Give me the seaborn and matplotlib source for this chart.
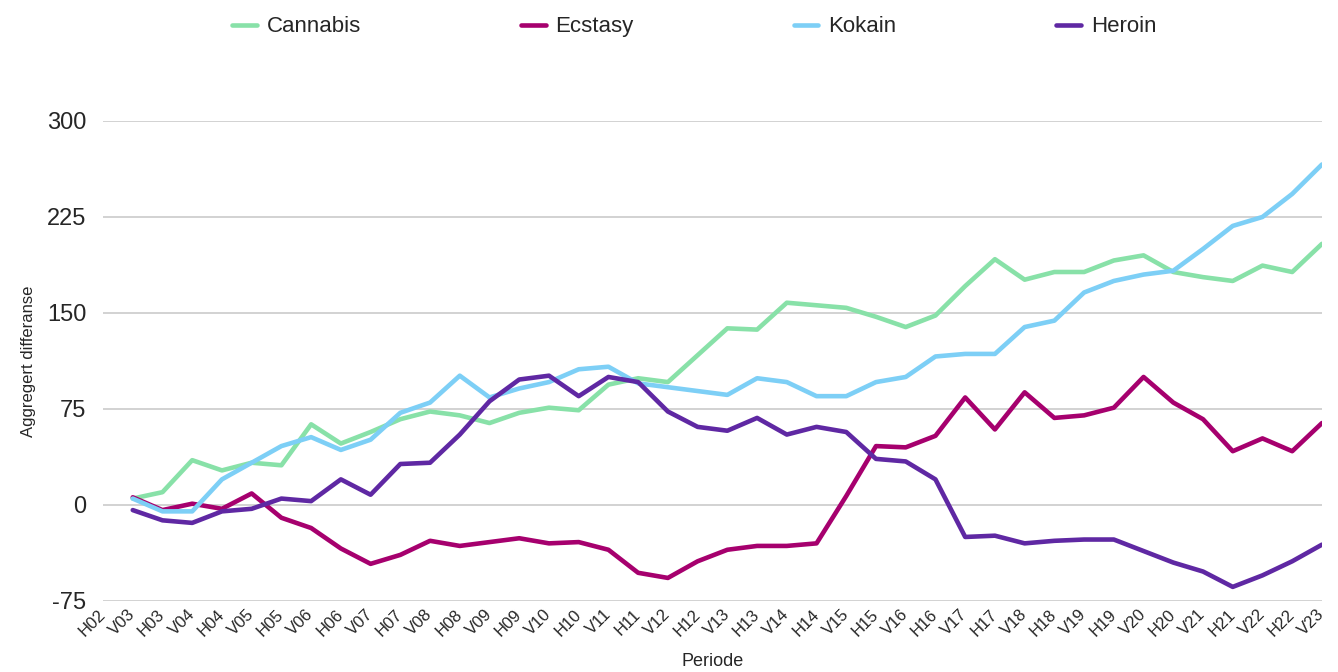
import numpy as np
import pandas as pd
import matplotlib
matplotlib.use("Agg")
import matplotlib.pyplot as plt
import seaborn as sns

# ---- Data ---- #
periods = ["H02", "V03", "H03", "V04", "H04", "V05", "H05", "V06", "H06", "V07",
           "H07", "V08", "H08", "V09", "H09", "V10", "H10", "V11", "H11", "V12",
           "H12", "V13", "H13", "V14", "H14", "V15", "H15", "V16", "H16", "V17",
           "H17", "V18", "H18", "V19", "H19", "V20", "H20", "V21", "H21", "V22",
           "H22", "V23"]

cannabis = [np.nan, 5, 10, 35, 27, 33, 31, 63, 48, 57, 67, 73, 70, 64, 72, 76, 74, 94,
            99, 96, 117, 138, 137, 158, 156, 154, 147, 139, 148, 171, 192, 176, 182,
            182, 191, 195, 182, 178, 175, 187, 182, 204]
ecstasy = [np.nan, 6, -4, 1, -3, 9, -10, -18, -34, -46, -39, -28, -32, -29, -26, -30,
           -29, -35, -53, -57, -44, -35, -32, -32, -30, 7, 46, 45, 54, 84, 59, 88, 68,
           70, 76, 100, 80, 67, 42, 52, 42, 64]
kokain = [np.nan, 5, -5, -5, 20, 33, 46, 53, 43, 51, 72, 80, 101, 84, 91, 96, 106, 108,
          95, 92, 89, 86, 99, 96, 85, 85, 96, 100, 116, 118, 118, 139, 144, 166, 175,
          180, 183, 200, 218, 225, 243, 266]
heroin = [np.nan, -4, -12, -14, -5, -3, 5, 3, 20, 8, 32, 33, 55, 81, 98, 101, 85, 100,
          96, 73, 61, 58, 68, 55, 61, 57, 36, 34, 20, -25, -24, -30, -28, -27, -27,
          -36, -45, -52, -64, -55, -44, -31]

names = ["Cannabis", "Ecstasy", "Kokain", "Heroin"]
colors = ["#88E1A8", "#A6006E", "#7DCFF6", "#5F28A3"]

wide = pd.DataFrame({"pos": np.arange(len(periods)),
                     "Cannabis": cannabis, "Ecstasy": ecstasy,
                     "Kokain": kokain, "Heroin": heroin})
df = wide.melt(id_vars="pos", var_name="Stoff", value_name="verdi").dropna()

# ---- Plot ---- #
sns.set_theme(style="white")
plt.rcParams["font.family"] = ["Liberation Sans", "DejaVu Sans"]
plt.rcParams["axes.unicode_minus"] = False

fig = plt.figure(figsize=(13.38, 6.72), dpi=100)
ax = fig.add_axes([0.077, 0.1057, 0.911, 0.7143])

sns.lineplot(data=df, x="pos", y="verdi", hue="Stoff", hue_order=names,
             palette=colors, linewidth=3.3, ax=ax)

ax.set_xlim(0, len(periods) - 1)
ax.set_ylim(-75, 300)
ax.set_yticks([-75, 0, 75, 150, 225, 300])
ax.set_xticks(np.arange(len(periods)))
ax.set_xticklabels(periods, rotation=45, ha="right", va="center",
                   rotation_mode="anchor", fontsize=12)
ax.tick_params(axis="y", labelsize=17, length=0, pad=12)
ax.tick_params(axis="x", length=0, pad=8)
ax.yaxis.grid(True, color="#cfcfcf", linewidth=1.3)
ax.xaxis.grid(False)
ax.set_axisbelow(True)
for s in ax.spines.values():
    s.set_visible(False)

ax.set_xlabel("Periode", fontsize=13, labelpad=10)
ax.set_ylabel("Aggregert differanse", fontsize=12, labelpad=8)

handles, labels = ax.get_legend_handles_labels()
ax.get_legend().remove()
fig.legend(handles, labels, loc="center", bbox_to_anchor=(0.519, 0.96), ncol=4,
           frameon=False, fontsize=16, handlelength=1.1, handletextpad=0.45,
           columnspacing=7.2)

fig.savefig("out.png", dpi=100)
